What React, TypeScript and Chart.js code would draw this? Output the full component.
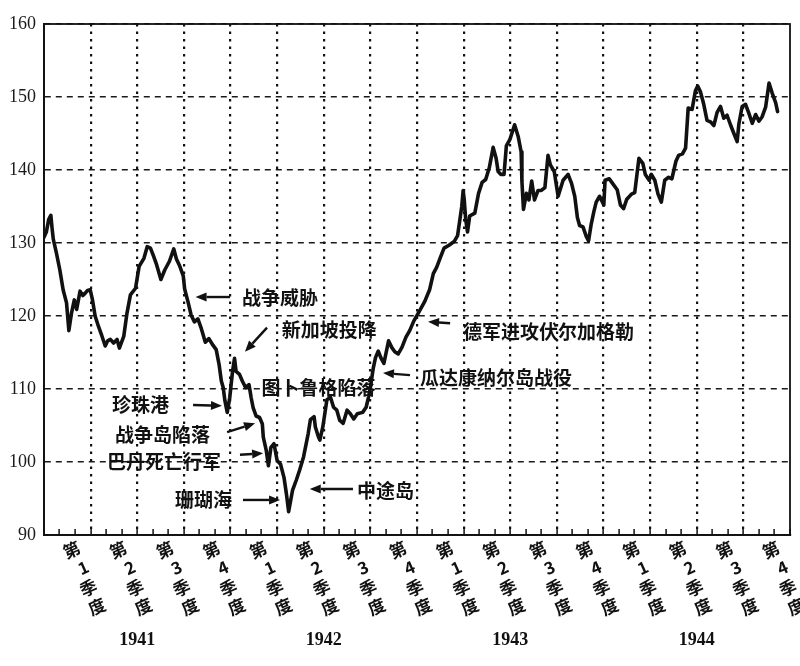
import React, { useEffect, useRef } from "react";
import { Chart, registerables } from "chart.js";

Chart.register(...registerables);

// Month position (0 = start of 1941) of each reading
const monthPos: number[] = [
  0, 0.15, 0.3, 0.44, 0.52, 0.6, 0.8, 1.02, 1.23, 1.45,
  1.6, 1.77, 1.95, 2.1, 2.32, 2.5, 2.64, 2.8, 2.97, 3.12,
  3.29, 3.5, 3.72, 3.94, 4.1, 4.27, 4.48, 4.7, 4.85, 5.13,
  5.34, 5.56, 5.89, 6.12, 6.43, 6.64, 6.85, 7.05, 7.25, 7.52,
  7.77, 8.07, 8.35, 8.52, 8.74, 8.96, 9.05, 9.27, 9.47, 9.68,
  9.9, 10.12, 10.38, 10.61, 10.87, 11.08, 11.27, 11.41, 11.53, 11.64,
  11.79, 11.95, 12.13, 12.26, 12.36, 12.58, 12.76, 12.97, 13.19, 13.33,
  13.46, 13.65, 13.87, 14.05, 14.11, 14.3, 14.44, 14.6, 14.8, 15.0,
  15.22, 15.44, 15.6, 15.74, 15.99, 16.23, 16.45, 16.7, 17.0, 17.14,
  17.38, 17.46, 17.65, 17.75, 17.94, 18.2, 18.43, 18.63, 18.84, 19.03,
  19.25, 19.5, 19.71, 19.93, 20.16, 20.5, 20.73, 20.88, 21.0, 21.19,
  21.33, 21.51, 21.67, 21.87, 22.17, 22.37, 22.57, 22.79, 23.03, 23.29,
  23.53, 23.79, 24.03, 24.27, 24.5, 24.81, 25.05, 25.27, 25.5, 25.74,
  26.06, 26.39, 26.61, 26.88, 26.97, 27.04, 27.13, 27.25, 27.39, 27.72,
  27.96, 28.19, 28.42, 28.65, 28.9, 29.09, 29.22, 29.39, 29.6, 29.75,
  29.98, 30.28, 30.51, 30.7, 30.75, 30.85, 31.04, 31.2, 31.38, 31.56,
  31.79, 32.0, 32.23, 32.43, 32.58, 32.83, 33.08, 33.4, 33.72, 33.94,
  34.15, 34.32, 34.46, 34.68, 34.89, 35.04, 35.21, 35.38, 35.53, 35.75,
  36.02, 36.1, 36.37, 36.57, 36.88, 37.09, 37.29, 37.5, 37.8, 38.01,
  38.28, 38.53, 38.69, 38.94, 39.08, 39.3, 39.51, 39.72, 39.94, 40.19,
  40.4, 40.66, 40.83, 41.08, 41.28, 41.45, 41.7, 41.92, 42.06, 42.24,
  42.45, 42.66, 42.88, 43.1, 43.31, 43.53, 43.74, 43.95, 44.17, 44.39,
  44.6, 44.71, 44.92, 45.14, 45.35, 45.57, 45.79, 46.0, 46.21, 46.43,
  46.65, 46.86, 47.08, 47.2,
];

// Index values
const dowValues: number[] = [
  130.8, 131.5, 133.2, 133.8, 132, 130.5, 128.6, 126.3, 123.6, 121.8,
  118, 120.4, 122.2, 120.9, 123.4, 122.8, 123.1, 123.5, 123.6, 122.2,
  120, 118.6, 117.3, 115.9, 116.6, 116.8, 116.3, 116.8, 115.6, 117.2,
  120.4, 122.9, 123.8, 126.8, 127.9, 129.5, 129.3, 128.2, 127, 125,
  126.3, 127.5, 129.2, 127.8, 126.8, 125.5, 123.7, 121.9, 120.1, 119.2,
  119.6, 118.3, 116.4, 116.9, 116, 115.4, 113.3, 111.1, 110.2, 108.4,
  106.8, 108.8, 112.4, 114.2, 112.4, 112, 111.1, 110.2, 110.6, 108.8,
  107.4, 106.3, 106.1, 105.2, 103.4, 101.6, 99.5, 102, 102.5, 100.2,
  99.7, 97.9, 95.6, 93.2, 96.1, 97.5, 98.9, 100.7, 103.9, 105.8,
  106.2, 104.8, 103.5, 103, 104.8, 108.5, 108.9, 107.5, 107.1, 105.7,
  105.3, 107.1, 106.6, 105.9, 106.6, 106.8, 107.5, 108.9, 110.2, 112.9,
  114.3, 115.2, 114.3, 113.5, 116.6, 115.7, 115.1, 114.8, 115.7, 117.1,
  118, 119.3, 120.2, 121.1, 122, 123.6, 125.8, 126.7, 128, 129.3,
  129.7, 130.2, 131, 135, 137.2, 135.9, 133.3, 131.5, 133.7, 134.1,
  136.8, 138.3, 138.7, 140.3, 143.1, 141.6, 139.8, 139.4, 139.4, 143.3,
  144.2, 146.2, 144.6, 142.5, 138.5, 134.6, 136.8, 135.9, 138.5, 135.9,
  137.2, 137.2, 137.6, 142, 140.7, 139.8, 136.4, 138.6, 139.4, 138.2,
  136.4, 133.5, 132.4, 132.2, 130.9, 130.3, 132.6, 134.3, 135.6, 136.4,
  135.2, 138.6, 138.8, 138.2, 137.3, 135.2, 134.7, 136, 136.7, 136.9,
  141.6, 140.9, 139.4, 138.6, 139.4, 138.6, 136.7, 135.6, 138.6, 139,
  138.8, 141.2, 142, 142.2, 143, 148.5, 148.3, 150.9, 151.5, 150.7,
  149, 146.8, 146.6, 146.1, 147.9, 148.7, 147.1, 147.5, 146.2, 145,
  143.9, 146.3, 148.7, 149, 147.8, 146.4, 147.6, 146.7, 147.3, 148.6,
  151.9, 150.5, 149.2, 148,
];

const quarterNums = ["1", "2", "3", "4", "1", "2", "3", "4", "1", "2", "3", "4", "1", "2", "3", "4"];
const quarterLabels = quarterNums.map((n) => ["第", n, "季", "度"]);
const yearLabels = ["1941", "1942", "1943", "1944"];
const yMin = 90;
const yMax = 160;
const yStep = 10;
const monthsTotal = 48;

// Event annotations: text, text anchor (month, value), arrow tail -> head (month, value)
const annTexts = [
  "战争威胁", "新加坡投降", "图卜鲁格陷落", "珍珠港", "战争岛陷落",
  "巴丹死亡行军", "珊瑚海", "中途岛", "瓜达康纳尔岛战役", "德军进攻伏尔加格勒",
];
const annTextAt: number[][] = [
  [12.74, 122.5], [15.3, 118.1], [14.0, 110.1], [4.38, 107.8], [4.57, 103.7],
  [4.05, 100.0], [8.43, 94.8], [20.14, 96.0], [24.2, 111.6], [26.96, 117.8],
];
const annArrows: (number[] | null)[] = [
  [11.97, 122.6, 9.75, 122.6],
  [14.35, 118.4, 12.93, 115.1],
  null,
  [9.59, 107.8, 11.45, 107.7],
  [11.78, 104.1, 13.58, 105.3],
  [12.61, 101.0, 14.1, 101.2],
  [12.8, 94.8, 15.19, 94.8],
  [19.88, 96.3, 17.1, 96.3],
  [23.55, 111.9, 21.81, 112.2],
  [26.13, 119.0, 24.71, 119.2],
];

const CJK = '"Noto Sans CJK SC", "Noto Sans CJK JP", sans-serif';
const SERIF = '"Liberation Serif", "DejaVu Serif", serif';

const framePlugin = {
  id: "frameAndNotes",
  beforeDraw(chart: any) {
    const { ctx, width, height } = chart;
    ctx.save();
    ctx.fillStyle = "#ffffff";
    ctx.fillRect(0, 0, width, height);
    ctx.restore();
  },
  afterDatasetsDraw(chart: any) {
    const { ctx, chartArea: a, scales } = chart;
    const xs = scales.x;
    const ys = scales.y;
    ctx.save();
    ctx.strokeStyle = "#111";
    ctx.lineWidth = 1.8;
    ctx.setLineDash([]);
    ctx.strokeRect(a.left, a.top, a.right - a.left, a.bottom - a.top);

    ctx.font = `bold 19px ${CJK}`;
    ctx.fillStyle = "#111";
    ctx.textBaseline = "middle";
    ctx.textAlign = "left";
    annTexts.forEach((t, i) => {
      const [m, v] = annTextAt[i];
      ctx.fillText(t, xs.getPixelForValue(m), ys.getPixelForValue(v));
      const arr = annArrows[i];
      if (arr) {
        const x1 = xs.getPixelForValue(arr[0]);
        const y1 = ys.getPixelForValue(arr[1]);
        const x2 = xs.getPixelForValue(arr[2]);
        const y2 = ys.getPixelForValue(arr[3]);
        const ang = Math.atan2(y2 - y1, x2 - x1);
        const hl = 11;
        const hw = 4.5;
        const bx = x2 - hl * Math.cos(ang);
        const by = y2 - hl * Math.sin(ang);
        ctx.strokeStyle = "#111";
        ctx.lineWidth = 2.4;
        ctx.beginPath();
        ctx.moveTo(x1, y1);
        ctx.lineTo(bx, by);
        ctx.stroke();
        ctx.beginPath();
        ctx.moveTo(x2, y2);
        ctx.lineTo(bx + hw * Math.sin(ang), by - hw * Math.cos(ang));
        ctx.lineTo(bx - hw * Math.sin(ang), by + hw * Math.cos(ang));
        ctx.closePath();
        ctx.fill();
      }
    });
    ctx.restore();
  },
};

export default function App() {
  const ref = useRef<HTMLCanvasElement | null>(null);

  useEffect(() => {
    const canvas = ref.current;
    if (!canvas) return;
    const points = monthPos.map((m, i) => ({ x: m, y: dowValues[i] }));
    const chart = new Chart(canvas, {
      type: "line",
      data: {
        datasets: [
          {
            data: points,
            borderColor: "#111",
            borderWidth: 3.6,
            pointRadius: 0,
            tension: 0,
            borderJoinStyle: "round",
            borderCapStyle: "round",
            xAxisID: "x",
            yAxisID: "y",
          } as any,
        ],
      },
      options: {
        responsive: false,
        animation: false,
        events: [],
        layout: { padding: { top: 24, right: 10, left: 0, bottom: 0 } },
        plugins: { legend: { display: false }, tooltip: { enabled: false } },
        scales: {
          x: {
            type: "linear",
            position: "bottom",
            weight: 0,
            min: 0,
            max: monthsTotal,
            ticks: { display: false, stepSize: 1, autoSkip: false },
            grid: {
              color: (c: any) => {
                const v = c.tick ? c.tick.value : -1;
                return v % 3 === 0 && v > 0 && v < monthsTotal ? "#111" : "rgba(0,0,0,0)";
              },
              lineWidth: 2.2,
              drawTicks: true,
              tickLength: -6,
              tickColor: "#111",
              tickWidth: 1.5,
            },
            border: { display: true, color: "#111", width: 1.8, dash: [2.5, 5] },
            afterFit: (s: any) => {
              s.height = 0;
              s.paddingLeft = 0;
              s.paddingRight = 0;
            },
          },
          xq: {
            type: "category",
            position: "bottom",
            weight: 1,
            labels: quarterLabels as any,
            offset: true,
            grid: { display: false, drawTicks: false },
            border: { display: false },
            ticks: {
              autoSkip: false,
              minRotation: 24,
              maxRotation: 24,
              padding: 2,
              labelOffset: 12,
              color: "#111",
              font: { family: CJK, size: 17, weight: "bold", lineHeight: 1.22 },
            },
            afterFit: (s: any) => {
              s.height = 90;
              s.paddingLeft = 0;
              s.paddingRight = 0;
            },
          },
          xy: {
            type: "category",
            position: "bottom",
            weight: 2,
            labels: yearLabels,
            offset: true,
            grid: { display: false, drawTicks: false },
            border: { display: false },
            ticks: {
              autoSkip: false,
              maxRotation: 0,
              padding: 5,
              color: "#111",
              font: { family: SERIF, size: 18, weight: "bold" },
            },
            afterFit: (s: any) => {
              s.height = 41;
              s.paddingLeft = 0;
              s.paddingRight = 0;
            },
          },
          y: {
            type: "linear",
            position: "left",
            min: yMin,
            max: yMax,
            ticks: {
              stepSize: yStep,
              padding: 8,
              color: "#1a1a1a",
              font: { family: SERIF, size: 18 },
            },
            grid: { color: "#1a1a1a", lineWidth: 1.6, drawTicks: false },
            border: { display: true, color: "#111", width: 1.8, dash: [6, 5] },
            afterFit: (s: any) => {
              s.width = 44;
            },
          },
        },
      } as any,
      plugins: [framePlugin],
    });
    return () => chart.destroy();
  }, []);

  return (
    <div style={{ position: "absolute", left: 0, top: 0, width: 800, height: 666, background: "#fff" }}>
      <canvas ref={ref} width={800} height={666} style={{ display: "block", width: 800, height: 666 }} />
    </div>
  );
}
